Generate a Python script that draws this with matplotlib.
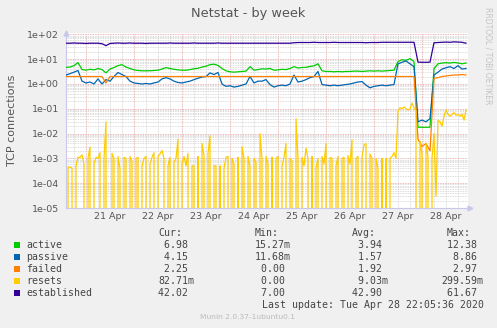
import numpy as np
import pandas as pd
import matplotlib
matplotlib.use('Agg')
from matplotlib import pyplot as plt
import matplotlib.dates as mdates
from matplotlib.ticker import FuncFormatter, LogLocator, NullFormatter
from matplotlib.patches import Rectangle

# one sample every 2 hours for the smooth series, every hour for resets
start = pd.Timestamp('2020-04-20 14:00')
times = pd.date_range(start, periods=101, freq='2h')
reset_times = pd.date_range(start, periods=201, freq='1h')

established = [44, 44, 45, 44, 44, 43, 44, 44, 44, 42,
               35, 43, 44, 45, 44, 44, 45, 44, 44, 44,
               43, 44, 44, 44, 44, 44, 45, 44, 44, 44,
               44, 44, 45, 44, 44, 44, 44, 44, 45, 44,
               44, 44, 44, 44, 44, 44, 44, 44, 44, 44,
               44, 44, 44, 44, 44, 44, 44, 46, 47, 47,
               47, 47, 48, 47, 47, 47, 47, 48, 47, 47,
               47, 47, 47, 47, 47, 46, 47, 47, 47, 48,
               48, 48, 48, 48, 48, 48, 48, 48, 7.6, 7.5,
               7.5, 7.6, 46, 47, 48, 49, 48, 50, 49, 48,
               44]

active = [4.7, 4.8, 5.5, 7.3, 3.8, 3.6, 3.9, 3.7, 4.2, 3.8,
          2.8, 4.0, 4.6, 5.5, 6.0, 4.8, 4.2, 3.7, 3.5, 3.4,
          3.4, 3.4, 3.5, 3.6, 4.0, 4.6, 4.2, 3.9, 3.7, 3.6,
          3.6, 3.8, 4.1, 4.3, 4.8, 5.2, 6.0, 6.3, 5.6, 4.2,
          3.4, 3.1, 3.0, 3.1, 3.2, 3.3, 5.0, 3.6, 3.8, 4.1,
          4.0, 4.2, 3.6, 3.7, 3.9, 3.8, 4.2, 5.0, 4.4, 4.6,
          4.7, 5.1, 5.4, 6.5, 3.4, 3.2, 3.2, 3.1, 3.2, 3.1,
          3.2, 3.2, 3.3, 3.3, 3.2, 3.3, 3.4, 3.3, 3.4, 3.3,
          3.4, 3.5, 3.6, 8.0, 9.5, 9.0, 10.5, 8.0, 0.018, 0.018,
          0.018, 0.018, 4.2, 6.5, 7.0, 7.2, 7.0, 7.4, 7.0, 6.5,
          7.0]

passive = [2.3, 2.6, 3.0, 3.5, 1.3, 1.1, 1.2, 1.0, 1.6, 1.0,
           1.5, 1.3, 2.0, 2.9, 2.4, 2.0, 1.3, 1.1, 1.05, 1.0,
           1.05, 1.0, 1.1, 1.2, 1.6, 1.8, 1.6, 1.3, 1.15, 1.1,
           1.2, 1.3, 1.5, 1.7, 1.9, 2.0, 2.8, 2.4, 2.9, 1.0,
           0.8, 0.85, 0.75, 0.8, 0.9, 1.0, 2.0, 1.1, 1.3, 1.3,
           1.5, 0.95, 0.75, 0.85, 0.9, 0.85, 1.0, 2.3, 1.2, 1.3,
           1.5, 1.8, 2.0, 3.2, 0.95, 0.9, 0.85, 0.9, 0.85, 0.9,
           0.95, 1.0, 1.1, 1.2, 1.25, 0.9, 0.7, 0.8, 0.85, 0.9,
           0.85, 0.9, 0.95, 6.5, 7.5, 8.5, 6.5, 5.0, 0.03, 0.035,
           0.03, 0.04, 2.3, 3.0, 4.0, 4.5, 5.0, 4.2, 5.5, 4.0,
           4.2]

failed = [2.0] * 10 + [1.1] + [2.0] * 77 + [0.006, 0.003, 0.004, 0.002,
          1.7, 1.8, 2.0, 2.1, 2.2, 2.3, 2.3, 2.4, 2.3]

resets = [0, 4.5e-4, 4.5e-4, 4e-4, 0, 5e-4, 1.1e-3, 1.1e-3, 1.4e-3, 6e-4,
          0, 1e-3, 2.9e-3, 0, 6e-4, 1.1e-3, 1e-3, 1.7e-3, 0, 1e-3,
          3e-2, 0, 0, 1.6e-3, 1e-3, 0, 1.2e-3, 4e-4, 0, 1.1e-3,
          1e-3, 0, 1.2e-3, 8e-4, 0, 1e-3, 1.1e-3, 0, 5e-4, 1e-3,
          1.2e-3, 0, 6e-4, 1.1e-3, 1.7e-3, 0, 1.2e-3, 1.5e-3, 2.1e-3, 1e-3,
          0, 5e-4, 1.1e-3, 0, 7e-4, 1e-3, 6e-3, 0, 6e-4, 1.2e-3,
          5e-4, 1.6e-3, 0, 5e-4, 5e-4, 0, 1.2e-3, 0, 4e-3, 1.3e-3,
          0, 1.6e-3, 8e-3, 0, 5e-4, 5e-4, 0, 5e-4, 0, 4e-4,
          1.1e-3, 1.2e-3, 0, 1e-3, 6e-4, 0, 1.1e-3, 0, 3e-3, 1e-3,
          0, 1.2e-3, 5e-4, 0, 1e-3, 7e-4, 0, 1e-2, 1e-3, 0,
          1.2e-3, 6e-4, 0, 1.1e-3, 0, 1e-3, 1.2e-3, 0, 5e-4, 1.1e-3,
          4e-3, 0, 1e-3, 8e-4, 0, 4e-2, 1e-3, 0, 1.1e-3, 5e-4,
          2.6e-3, 1e-3, 0, 1.2e-3, 0, 4e-4, 1e-3, 0, 1.2e-3, 6e-4,
          4e-3, 0, 1.1e-3, 1e-3, 0, 5e-4, 1.2e-3, 0, 1e-3, 1.1e-3,
          0, 1.3e-3, 6e-4, 5.6e-3, 0, 1e-3, 1.2e-3, 0, 1.1e-3, 3.5e-3,
          4e-3, 0, 1.5e-3, 1e-3, 0, 1e-3, 4e-4, 0, 1e-3, 0,
          1e-3, 0, 1e-3, 1.2e-3, 1.7e-3, 1e-3, 8e-2, 1.1e-1, 1e-1, 1.2e-1,
          1e-1, 9e-2, 1e-1, 1.7e-1, 1.1e-1, 8e-2, 0, 5e-3, 1.5e-3, 0,
          4e-3, 1.2e-3, 0, 1e-3, 1e-2, 3e-5, 3.5e-2, 3e-2, 2e-2, 5e-2,
          9e-2, 6e-2, 5e-2, 6e-2, 7e-2, 5.5e-2, 6e-2, 5e-2, 6e-2, 3.5e-2,
          9e-2]

names = ['active', 'passive', 'failed', 'resets', 'established']
colors = ['#00cc00', '#0066b3', '#ff8000', '#ffcc00', '#330099']
cur = [' 6.98 ', ' 4.15 ', ' 2.25 ', '82.71m', '42.02 ']
mins = ['15.27m', '11.68m', ' 0.00 ', ' 0.00 ', ' 7.00 ']
avgs = [' 3.94 ', ' 1.57 ', ' 1.92 ', ' 9.03m', '42.90 ']
maxs = [' 12.38 ', '  8.86 ', '  2.97 ', '299.59m', ' 61.67 ']

W, H = 497, 328
fig = plt.figure(figsize=(W / 100, H / 100), dpi=100, facecolor='#f0f0f0')
ax = fig.add_axes([66 / W, 1 - 208 / H, (468 - 66) / W, (208 - 32.5) / H])
ax.set_facecolor('white')
ax.set_yscale('log')

series = [(times, active), (times, passive), (times, failed),
          (reset_times, resets), (times, established)]
for k, (t, vals) in enumerate(series):
    ax.plot(t, vals, color=colors[k], lw=0.9, zorder=3 + k)

ax.set_xlim(start, start + pd.Timedelta(hours=201))
ax.set_ylim(1e-5, 1.19e2)

ax.yaxis.set_major_locator(LogLocator(base=10, numticks=20))
ax.yaxis.set_minor_locator(LogLocator(base=10, subs=np.arange(2, 10), numticks=20))
ax.yaxis.set_major_formatter(FuncFormatter(lambda v, p: f'{v:.0e}'))
ax.yaxis.set_minor_formatter(NullFormatter())

ax.xaxis.set_major_locator(mdates.DayLocator())
ax.xaxis.set_major_formatter(NullFormatter())
ax.xaxis.set_minor_locator(mdates.HourLocator(byhour=[6, 12, 18]))
ax.xaxis.set_minor_formatter(FuncFormatter(
    lambda v, p: mdates.num2date(v).strftime('%d %b') if mdates.num2date(v).hour == 12 else ''))
ax.xaxis.remove_overlapping_locs = False

ax.grid(which='minor', color='#d0d0d0', ls=(0, (1, 1)), lw=0.6)
ax.grid(which='major', color='#e8a0a0', ls=(0, (1, 1)), lw=0.6)
ax.set_axisbelow(True)
ax.tick_params(which='both', length=0, colors='#555555', labelsize=6.8)
ax.tick_params(axis='y', pad=5)
ax.tick_params(axis='x', which='minor', pad=3)

for s in ['top', 'right']:
    ax.spines[s].set_visible(False)
for s in ['left', 'bottom']:
    ax.spines[s].set_color('#c8c8ea')
    ax.spines[s].set_linewidth(0.8)
ax.plot([0], [1.0], marker='^', ms=3.5, color='#c8c8ea', transform=ax.transAxes, clip_on=False)
ax.plot([1.005], [0], marker='>', ms=3.5, color='#c8c8ea', transform=ax.transAxes, clip_on=False)

fig.text(248 / W, 1 - 13 / H, 'Netstat - by week', ha='center', va='center', fontsize=9.3, color='#555555')
fig.text(12 / W, 1 - 120 / H, 'TCP connections', rotation=90, ha='center', va='center', fontsize=8, color='#555555')
fig.text(488 / W, 1 - 56 / H, 'RRDTOOL / TOBI OETIKER', rotation=270, ha='center', va='center',
         fontsize=5.5, color='#c4c4c4')

mono = dict(family='DejaVu Sans Mono', fontsize=7.1, color='#444444', va='center', ha='left')
fig.text(158.3 / W, 1 - 232.5 / H, 'Cur:', **mono)
fig.text(255 / W, 1 - 232.5 / H, 'Min:', **mono)
fig.text(351.7 / W, 1 - 232.5 / H, 'Avg:', **mono)
fig.text(446.7 / W, 1 - 232.5 / H, 'Max:', **mono)
for k, name in enumerate(names):
    yc = 244.7 + 12 * k
    fig.patches.append(Rectangle((14 / W, 1 - (yc + 3) / H), 6 / W, 6 / H,
                                 transform=fig.transFigure, facecolor=colors[k], edgecolor='none'))
    fig.text(26.3 / W, 1 - yc / H, name, **mono)
    fig.text(158.3 / W, 1 - yc / H, cur[k], **mono)
    fig.text(255 / W, 1 - yc / H, mins[k], **mono)
    fig.text(351.7 / W, 1 - yc / H, avgs[k], **mono)
    fig.text(441 / W, 1 - yc / H, maxs[k], **mono)
fig.text(261.7 / W, 1 - 304.5 / H, 'Last update: Tue Apr 28 22:05:36 2020', **mono)
fig.text(248 / W, 1 - 316.7 / H, 'Munin 2.0.37-1ubuntu0.1', ha='center', va='center',
         fontsize=5.4, color='#bbbbbb')

fig.savefig('out.png', dpi=100, facecolor=fig.get_facecolor())
